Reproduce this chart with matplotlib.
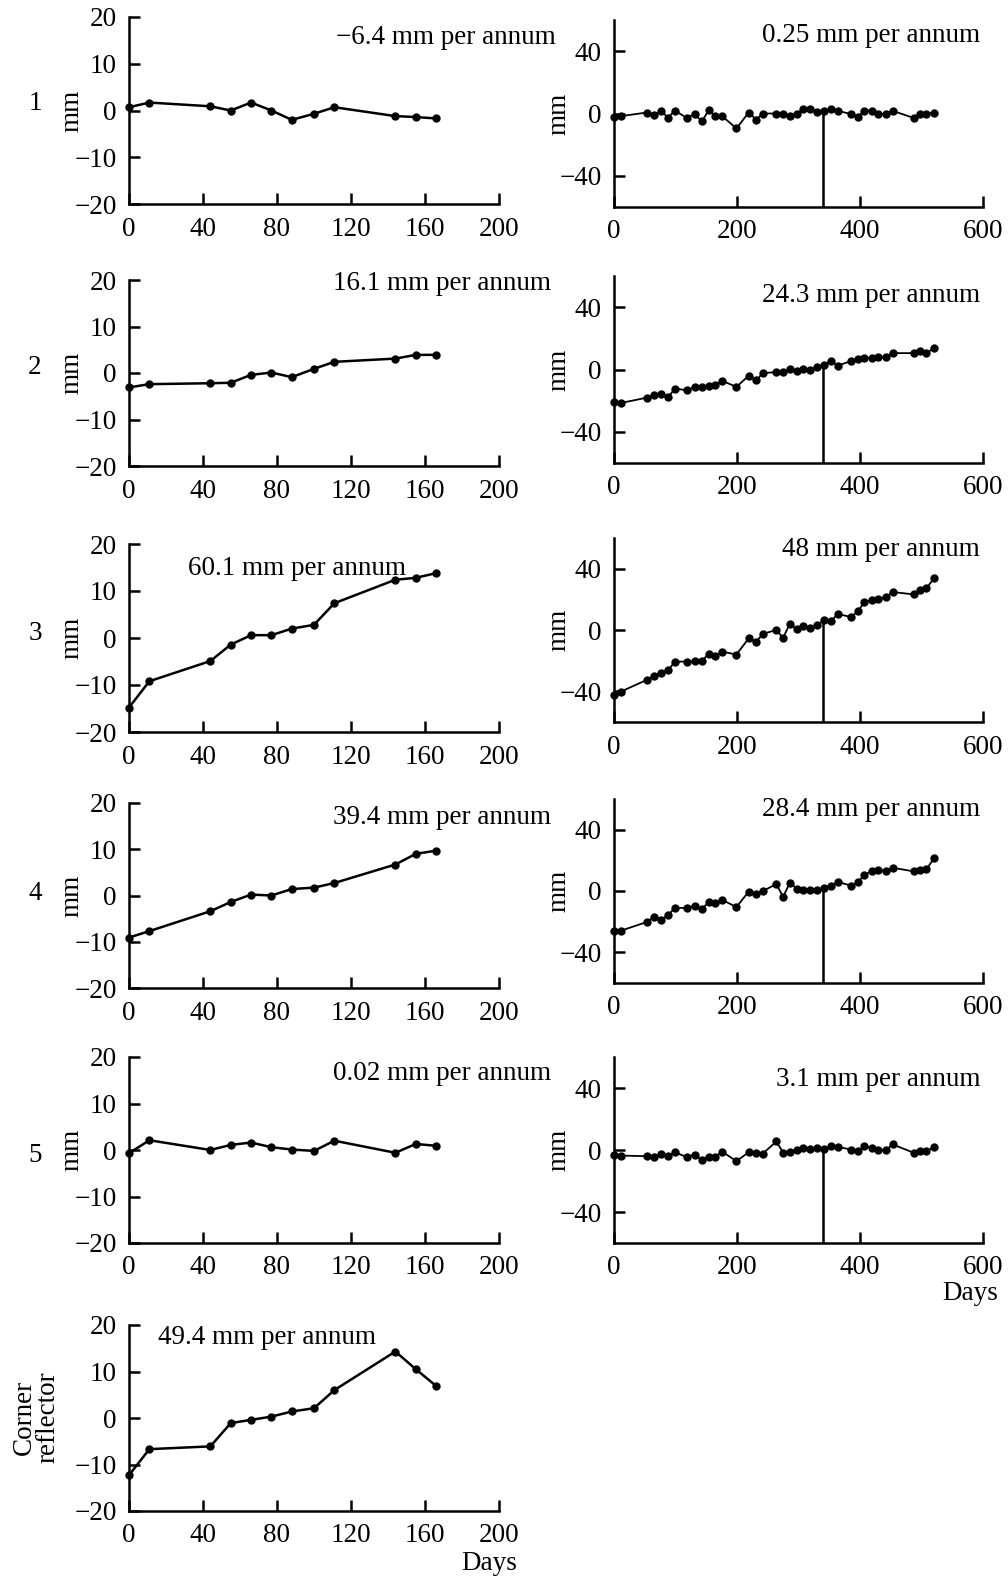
import numpy as np
import matplotlib
matplotlib.use("Agg")
import matplotlib.pyplot as plt

plt.rcParams['font.family'] = ['Liberation Serif', 'DejaVu Serif']
plt.rcParams['font.size'] = 19.5

# days of the left (short) series and right (long) series
days_left = [0, 11, 44, 55, 66, 77, 88, 100, 111, 144, 155, 166]
days_right = [0, 11, 53, 65, 77, 88, 99, 118, 131, 143, 154, 165, 176, 199,
              219, 231, 242, 264, 275, 286, 297, 308, 319, 330, 341, 353, 364,
              386, 397, 407, 419, 430, 442, 453, 487, 497, 508, 521]

# left column, mm
left1 = [0.7, 1.7, 0.9, 0.0, 1.7, 0.0, -2.0, -0.7, 0.7, -1.2, -1.4, -1.7]
left2 = [-3.1, -2.4, -2.2, -2.1, -0.4, 0.1, -0.9, 0.9, 2.4, 3.1, 3.9, 3.9]
left3 = [-14.8, -9.2, -4.9, -1.4, 0.6, 0.6, 2.0, 2.8, 7.4, 12.4, 12.8, 13.8]
left4 = [-9.1, -7.7, -3.4, -1.4, 0.2, 0.0, 1.4, 1.7, 2.7, 6.7, 9.0, 9.7]
left5 = [-0.7, 2.1, 0.0, 1.1, 1.6, 0.6, 0.1, -0.2, 2.0, -0.6, 1.3, 0.9]
corner = [-12.3, -6.7, -6.1, -1.1, -0.4, 0.3, 1.4, 2.1, 6.0, 14.3, 10.5, 6.9]

# right column, mm
right1 = [-2.1, -1.7, 0.6, -0.9, 1.3, -2.6, 1.9, -2.8, -0.4, -5.1, 2.1, -1.7, -1.7,
          -9.6, 0.6, -3.9, 0.0, 0.0, 0.0, -1.3, 0.0, 2.6, 3.2, 0.9, 1.5, 3.0, 1.7,
          -0.4, -2.1, 1.9, 1.9, -0.6, 0.0, 1.7, -2.8, -0.4, -0.2, 0.4]
right2 = [-20.9, -21.5, -18.1, -16.5, -15.6, -17.9, -12.2, -13.3, -11.4, -11.4,
          -10.3, -9.7, -7.2, -11.2, -4.0, -7.0, -2.3, -1.7, -1.7, 0.4, -1.1, 0.4,
          -0.2, 1.7, 2.7, 5.5, 2.5, 5.5, 6.8, 7.2, 7.4, 7.8, 8.2, 10.5, 10.5, 11.6,
          10.8, 13.5]
right3 = [-42.7, -40.2, -32.6, -29.9, -27.8, -26.3, -20.6, -20.6, -20.4, -20.2,
          -15.4, -16.8, -14.1, -16.0, -5.5, -7.8, -2.5, 0.0, -5.1, 4.2, 0.4, 2.7,
          1.3, 3.2, 6.3, 5.9, 10.5, 8.4, 12.6, 18.1, 19.6, 20.4, 21.3, 24.8, 23.2,
          26.3, 27.2, 34.1]
right4 = [-26.1, -25.9, -20.3, -16.9, -18.6, -15.8, -10.9, -11.1, -9.6, -11.8,
          -7.1, -7.9, -5.8, -10.5, -0.4, -2.1, 0.0, 4.5, -3.9, 5.5, 1.5, 0.6, 0.6,
          0.4, 1.7, 3.2, 6.0, 3.4, 5.8, 10.7, 12.8, 13.9, 12.8, 15.2, 12.8, 13.9,
          14.1, 21.8]
right5 = [-3.0, -3.6, -4.0, -4.7, -2.8, -3.8, -1.5, -4.5, -3.0, -6.4, -4.2, -4.2,
          -1.1, -7.2, -1.5, -2.1, -2.3, 5.5, -1.7, -1.3, -0.2, 1.3, 0.8, 1.5, 0.8,
          2.5, 2.1, 0.2, -0.8, 2.5, 1.5, -0.2, -0.2, 3.6, -1.7, -0.4, -0.4, 1.7]

left_rates = ["\u22126.4 mm per annum", "16.1 mm per annum", "60.1 mm per annum",
              "39.4 mm per annum", "0.02 mm per annum", "49.4 mm per annum"]
right_rates = ["0.25 mm per annum", "24.3 mm per annum", "48 mm per annum",
               "28.4 mm per annum", "3.1 mm per annum"]
row_names = ["1", "2", "3", "4", "5"]
cut_day = 340

W, H = 1008, 1576
fig = plt.figure(figsize=(W / 100, H / 100), dpi=100)


def rect(x0, x1, top, bottom):
    return [x0 / W, 1 - bottom / H, (x1 - x0) / W, (bottom - top) / H]


def style(ax):
    for s in ['top', 'right']:
        ax.spines[s].set_visible(False)
    for s in ['left', 'bottom']:
        ax.spines[s].set_linewidth(1.8)
    ax.tick_params(direction='in', length=8, width=1.8, pad=9)


def put(x, y, s, **kw):
    fig.text(x / W, 1 - y / H, s, va='center', **kw)


left_rows = [(17, 204), (280, 466), (544, 732), (803, 988), (1057, 1243), (1325, 1511)]
right_rows = [(20, 207), (276, 463), (538, 722), (799, 983), (1057, 1243)]
left_series = [left1, left2, left3, left4, left5, corner]
right_series = [right1, right2, right3, right4, right5]

for i, (top, bot) in enumerate(left_rows):
    ax = fig.add_axes(rect(129, 499, top, bot))
    ax.plot(days_left, left_series[i], 'k-', lw=1.8, marker='o', ms=5, clip_on=False)
    ax.set_xlim(0, 200)
    ax.set_ylim(-20, 20)
    ax.set_xticks([0, 40, 80, 120, 160, 200])
    ax.set_yticks([-20, -10, 0, 10, 20])
    style(ax)
    if i < 5:
        ax.set_ylabel("mm")
        ax.yaxis.set_label_coords(-0.12, 0.5)

for i, (top, bot) in enumerate(right_rows):
    ax = fig.add_axes(rect(614, 983, top, bot))
    ax.plot(days_right, right_series[i], 'k-', lw=1.3, marker='o', ms=5, clip_on=False)
    ax.vlines(cut_day, -60, np.interp(cut_day, days_right, right_series[i]),
              color='k', lw=1.8)
    ax.set_xlim(0, 600)
    ax.set_ylim(-60, 60)
    ax.set_xticks([0, 200, 400, 600])
    ax.set_yticks([-40, 0, 40])
    style(ax)
    ax.set_ylabel("mm")
    ax.yaxis.set_label_coords(-0.114, 0.5)

# rate annotations
put(556, 37, left_rates[0], ha='right')
put(551, 284, left_rates[1], ha='right')
put(188, 568, left_rates[2], ha='left')
put(551, 818, left_rates[3], ha='right')
put(551, 1073, left_rates[4], ha='right')
put(158, 1337, left_rates[5], ha='left')
for txt, y in zip(right_rates, [36, 295, 549, 810, 1079]):
    put(980, y, txt, ha='right')

# row numbers
for name, y in zip(row_names, [104, 367, 634, 893, 1156]):
    put(35, y, name, ha='center')
put(36, 1417, "Corner\nreflector", ha='center', rotation=90, linespacing=0.95)

put(998, 1293, "Days", ha='right')
put(517, 1563, "Days", ha='right')

fig.savefig("out.png", dpi=100)
